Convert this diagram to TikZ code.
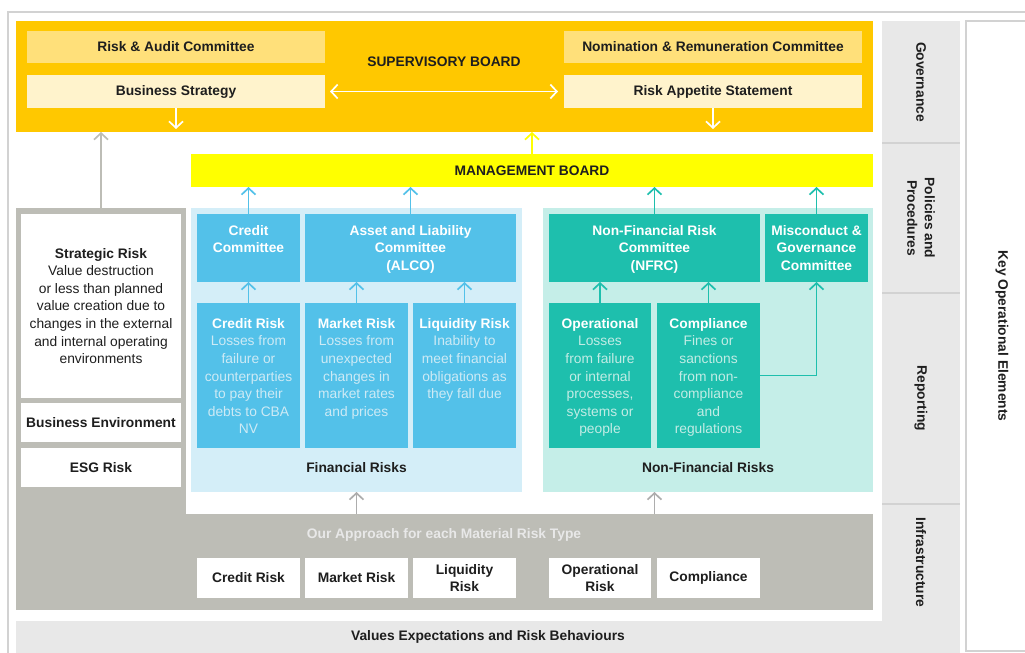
\documentclass[tikz,border=0pt]{standalone}
\usepackage{fontspec}
\setmainfont{Liberation Sans}
\usepackage{tikz}
\usetikzlibrary{arrows.meta,positioning}
\definecolor{boardorange}{HTML}{FFC800}
\definecolor{paleamber}{HTML}{FFE07A}
\definecolor{cream}{HTML}{FFF3CC}
\definecolor{mgmtyellow}{HTML}{FFFF00}
\definecolor{finpanel}{HTML}{D4EEF8}
\definecolor{finblue}{HTML}{53C1E9}
\definecolor{finlight}{HTML}{CDEAF5}
\definecolor{nfpanel}{HTML}{C5EEE8}
\definecolor{nfteal}{HTML}{1EBFAD}
\definecolor{nflight}{HTML}{C2ECE5}
\definecolor{stone}{HTML}{BDBDB6}
\definecolor{arrgray}{HTML}{ADADAD}
\definecolor{colgray}{HTML}{E8E8E8}
\definecolor{rulegray}{HTML}{D2D2D2}
\definecolor{ink}{HTML}{1E1E1E}
\newcommand{\bsz}{\fontsize{13.8}{17.6}\selectfont}
\newcommand{\rhead}[1]{\textbf{\textcolor{white}{#1}}}

\begin{document}
\begin{tikzpicture}[
    x=1pt, y=-1pt,
    font=\bsz, text=ink,
    blk/.style={anchor=north west, inner sep=0pt, outer sep=0pt, align=center},
    sz/.style 2 args={minimum width=#1pt, minimum height=#2pt},
    comm/.style={blk, fill=paleamber, font=\bsz\bfseries},
    stmt/.style={blk, fill=cream, font=\bsz\bfseries},
    wbox/.style={blk, fill=white, font=\bsz\bfseries},
    finbox/.style={blk, fill=finblue},
    nfbox/.style={blk, fill=nfteal},
    cell/.style={blk, fill=colgray},
    vlabel/.style={rotate=-90, font=\bsz\bfseries, align=center},
    boxtxt/.style={anchor=north, align=center, inner sep=0pt},
    conn/.style={-{Straight Barb[length=6.5pt,width=14pt]}, line width=1.7pt}
  ]
    \useasboundingbox (0,0) rectangle (1025,653);
    % cadre
    \draw[rulegray, line width=1.5pt] (8,653) -- (8,12) -- (1025,12);

    % supervisory board
    \node[blk, sz={857}{111}, fill=boardorange] (sup) at (16,21) {};
    \node[comm, sz={298}{32}] (rac) at (27,31) {Risk \& Audit Committee};
    \node[stmt, sz={298}{33}, below=12pt of rac] (bs) {Business Strategy};
    \node[comm, sz={298}{32}] (nrc) at (564,31) {Nomination \& Remuneration Committee};
    \node[stmt, sz={298}{33}, below=12pt of nrc] (ras) {Risk Appetite Statement};
    \node[font=\bsz\bfseries] (suplbl) at (444,62) {SUPERVISORY BOARD};

    % management board
    \node[blk, sz={682}{33}, fill=mgmtyellow, font=\bsz\bfseries] (mb) at (191,154) {MANAGEMENT BOARD};

    % strategic column + approach band
    \node[blk, sz={170}{402}, fill=stone] (leftcol) at (16,208) {};
    \node[blk, sz={687}{96}, fill=stone] (appr) at (186,514) {};
    \node[blk, sz={160}{184}, fill=white] (strat) at (21,214) {};
    \node[align=center] (strattxt) at (strat) {\textbf{Strategic Risk}\\Value destruction\\or less than planned\\value creation due to\\changes in the external\\and internal operating\\environments};
    \node[wbox, sz={160}{39}, below=5pt of strat] (busenv) {Business Environment};
    \node[wbox, sz={160}{39}, below=6pt of busenv] (esg) {ESG Risk};

    % financial risks
    \node[blk, sz={331}{284}, fill=finpanel] (fin) at (191,208) {};
    \node[finbox, sz={103}{68}] (cc) at (197,214) {};
    \node[finbox, sz={211}{68}, right=5pt of cc] (alco) {};
    \node[finbox, sz={103}{145}] (cr) at (197,303) {};
    \node[finbox, sz={103}{145}, right=5pt of cr] (mr) {};
    \node[finbox, sz={103}{145}, right=5pt of mr] (lr) {};
    \node[boxtxt] (cctxt) at ([yshift=-11pt]cc.north) {\rhead{Credit}\\\rhead{Committee}};
    \node[boxtxt] (alcotxt) at ([yshift=-11pt]alco.north) {\rhead{Asset and Liability}\\\rhead{Committee}\\\rhead{(ALCO)}};
    \node[boxtxt, text=finlight] (crtxt) at ([yshift=-15pt]cr.north)
      {\rhead{Credit Risk}\\Losses from\\failure or\\counterparties\\to pay their\\debts to CBA\\NV};
    \node[boxtxt, text=finlight] (mrtxt) at ([yshift=-15pt]mr.north)
      {\rhead{Market Risk}\\Losses from\\unexpected\\changes in\\market rates\\and prices};
    \node[boxtxt, text=finlight] (lrtxt) at ([yshift=-15pt]lr.north)
      {\rhead{Liquidity Risk}\\Inability to\\meet financial\\obligations as\\they fall due};
    \node[font=\bsz\bfseries] (finlbl) at ([yshift=24pt]fin.south) {Financial Risks};

    % non-financial risks
    \node[blk, sz={330}{284}, fill=nfpanel] (nonfin) at (543,208) {};
    \node[nfbox, sz={211}{68}] (nfrc) at (549,214) {};
    \node[nfbox, sz={103}{68}, right=5pt of nfrc] (mgc) {};
    \node[nfbox, sz={102}{145}] (op) at (549,303) {};
    \node[nfbox, sz={103}{145}, right=6pt of op] (co) {};
    \node[boxtxt] (nfrctxt) at ([yshift=-11pt]nfrc.north) {\rhead{Non-Financial Risk}\\\rhead{Committee}\\\rhead{(NFRC)}};
    \node[boxtxt] (mgctxt) at ([yshift=-11pt]mgc.north) {\rhead{Misconduct \&}\\\rhead{Governance}\\\rhead{Committee}};
    \node[boxtxt, text=nflight] (optxt) at ([yshift=-15pt]op.north)
      {\rhead{Operational}\\Losses\\from failure\\or internal\\processes,\\systems or\\people};
    \node[boxtxt, text=nflight] (cotxt) at ([yshift=-15pt]co.north)
      {\rhead{Compliance}\\Fines or\\sanctions\\from non-\\compliance\\and\\regulations};
    \node[font=\bsz\bfseries] (nflbl) at ([yshift=24pt]nonfin.south) {Non-Financial Risks};

    % approach per risk type
    \node[font=\bsz\bfseries, text=colgray] (apprlbl) at (444,535) {Our Approach for each Material Risk Type};
    \node[wbox, sz={103}{40}] (crb) at (197,558) {Credit Risk};
    \node[wbox, sz={103}{40}, right=5pt of crb] (mrb) {Market Risk};
    \node[wbox, sz={103}{40}, right=5pt of mrb] (lrb) {Liquidity\\Risk};
    \node[wbox, sz={102}{40}] (opb) at (549,558) {Operational\\Risk};
    \node[wbox, sz={103}{40}, right=6pt of opb] (cob) {Compliance};

    % values strip
    \node[blk, sz={944}{32}, fill=colgray, font=\bsz\bfseries] (vals) at (16,621) {Values Expectations and Risk Behaviours};

    % key operational elements
    \node[cell, sz={78}{122}] (gov) at (882,21) {};
    \node[cell, sz={78}{150}, below=0pt of gov] (pol) {};
    \node[cell, sz={78}{211}, below=0pt of pol] (rep) {};
    \node[cell, sz={78}{117}, below=0pt of rep] (infra) {};
    \foreach \c in {gov,pol,rep}
      \draw[rulegray, line width=1.5pt] (\c.south west) -- (\c.south east);
    \node[vlabel] (govtxt) at (gov) {Governance};
    \node[vlabel] (poltxt) at (pol) {Policies and\\Procedures};
    \node[vlabel] (reptxt) at (rep) {Reporting};
    \node[vlabel] (infratxt) at (infra) {Infrastructure};
    \node[blk, sz={70}{630}, draw=rulegray, line width=1.2pt, fill=white] (koe) at (966,21) {};
    \node[vlabel] (koetxt) at (1002,336) {Key Operational Elements};

    % connexions
    \draw[conn, finblue] (cr.north) -- (cc.south);
    \draw[conn, finblue] (mr.north) -- (mr.north |- alco.south);
    \draw[conn, finblue] (lr.north) -- (lr.north |- alco.south);
    \draw[conn, finblue] (cc.north) -- (cc.north |- mb.south);
    \draw[conn, finblue] (alco.north) -- (alco.north |- mb.south);
    \draw[conn, nfteal] (op.north) -- (op.north |- nfrc.south);
    \draw[conn, nfteal] (co.north) -- (co.north |- nfrc.south);
    \draw[conn, nfteal] (co.east) -| (mgc.south);
    \draw[conn, nfteal] (nfrc.north) -- (nfrc.north |- mb.south);
    \draw[conn, nfteal] (mgc.north) -- (mgc.north |- mb.south);
    \draw[conn, mgmtyellow] (mb.north) -- (mb.north |- sup.south);
    \draw[conn, white, shorten >=3pt] (bs.south) -- (bs.south |- sup.south);
    \draw[conn, white, shorten >=3pt] (ras.south) -- (ras.south |- sup.south);
    \draw[conn, white, {Straight Barb[length=6.5pt,width=14pt]}-{Straight Barb[length=6.5pt,width=14pt]},
      shorten <=5pt, shorten >=6pt] (bs.east) -- (ras.west);
    \draw[conn, stone] (strat.north |- leftcol.north) -- (strat.north |- sup.south);
    \draw[conn, arrgray] (fin.south |- appr.north) -- (fin.south);
    \draw[conn, arrgray] (nfrc.south |- appr.north) -- (nfrc.south |- nonfin.south);
  \end{tikzpicture}
\end{document}
